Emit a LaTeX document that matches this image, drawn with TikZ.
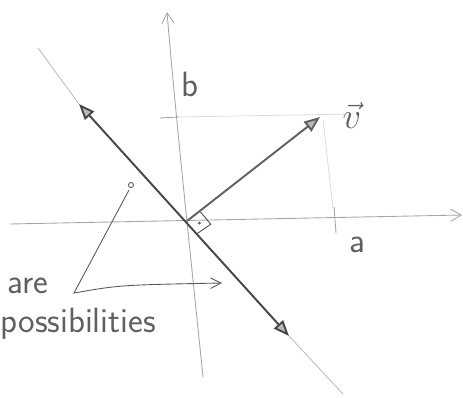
\documentclass[tikz,border=0pt]{standalone}
\usepackage{amsmath,amssymb}
\usepackage{tikz}
\usepackage{xcolor}
\usetikzlibrary{arrows.meta}

\tikzset{
  pencil/.style={draw=gray!70, line width=0.5pt},
  faint/.style={draw=gray!30, line width=0.4pt},
  pen/.style={draw=black!72, line width=1.1pt},
  hand/.style={text=gray!75!black, font=\sffamily\fontsize{20}{22}\selectfont},
  tip/.style={-{Triangle[open,length=9pt,width=7pt,fill=gray!55]}},
}

\begin{document}
\begin{tikzpicture}[x=0.02cm,y=-0.02cm]
  \useasboundingbox (0,0) rectangle (463,398);
  \clip (0,0) rectangle (463,398);

  % axes
  \coordinate (O) at (187,221);
  \coordinate (xl) at (10,224);
  \coordinate (xr) at (462,215);
  \coordinate (yb) at (203,377);
  \coordinate (yt) at (167,12);
  \draw[pencil,-{Straight Barb[length=6pt,width=7pt]}] (xl) -- (xr);
  \draw[pencil,-{Straight Barb[length=6pt,width=7pt]}] (yb) .. controls (190,250) and (176,120) .. (yt);

  % ticks a and b, projections of v
  \coordinate (ta1) at (334,207);
  \coordinate (ta2) at (336,233);
  \coordinate (tb1) at (160,118);
  \coordinate (tb2) at (179,117);
  \coordinate (pr) at (353,114);
  \coordinate (pb) at (333,208);
  \coordinate (pt) at (323,120);
  \draw[pencil] (ta1) -- (ta2);
  \draw[pencil] (tb1) -- (tb2);
  \draw[faint] (tb2) -- (pr);
  \draw[faint] (pt) -- (pb);
  \node[hand] (a) at (357,245) {a};
  \node[hand] (b) at (190,84) {b};

  % vector v
  \coordinate (vt) at (320,117);
  \draw[pen,draw=black!62,tip] (O) -- (vt);
  \node[hand,font=\sffamily\fontsize{22}{24}\selectfont] (v) at (352,116) {$\vec{v}$};

  % line L
  \coordinate (Ls) at (38,48);
  \coordinate (La) at (79,104);
  \coordinate (Lb) at (289,336);
  \coordinate (Le) at (343,394);
  \draw[faint,draw=gray!60] (Ls) -- (La);
  \draw[faint,draw=gray!60] (Lb) -- (Le);
  \draw[pen,{Triangle[open,length=9pt,width=7pt,fill=gray!55]}-{Triangle[open,length=9pt,width=7pt,fill=gray!55]}] (La) -- (Lb);

  % right angle between v and L
  \draw[pencil,draw=black!70] (200.5,212) -- (210.8,224.2) -- (196.3,234.2);
  \fill[black!60] (199.4,223.1) circle (1.6);

  % pointer to the two possibilities
  \coordinate (dot) at (131,185);
  \coordinate (vx) at (74,293);
  \coordinate (ar) at (222,283);
  \draw[pencil,draw=black!65] (dot) circle (2.5);
  \draw[pencil,draw=black!65,-{Straight Barb[length=6pt,width=6pt]}] (129,190) -- (vx) .. controls (120,285) .. (ar);
  \node[hand,anchor=base west] (t1) at (1,294) {are};
  \node[hand,anchor=base east] (t2) at (162,333) {possibilities};
\end{tikzpicture}
\end{document}
